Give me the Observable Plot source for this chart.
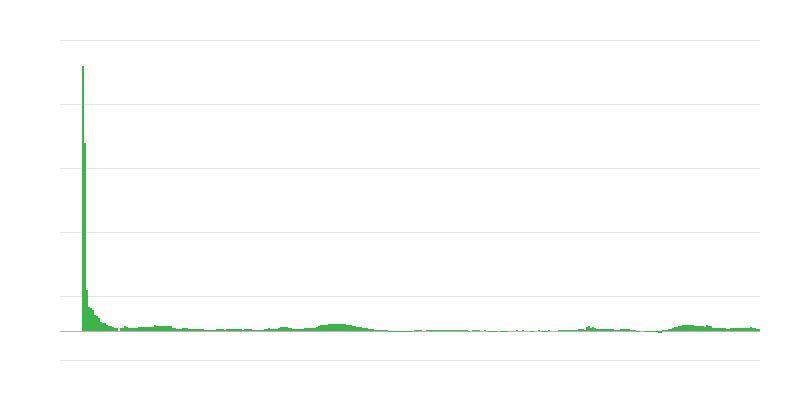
<!DOCTYPE html>
<html>
<head>
<meta charset="utf-8">
<script src="https://cdn.jsdelivr.net/npm/d3@7"></script>
<script src="https://cdn.jsdelivr.net/npm/@observablehq/plot@0.6"></script>
<style>
  html, body { margin: 0; padding: 0; background: #fff; }
  #chart { width: 800px; height: 400px; }
</style>
</head>
<body>
<div id="chart"></div>
<script>
// Bar values (one per period)
const values = [
  265, 188, 41, 24, 23, 21, 16, 15, 13, 9,
  8, 8, 6, 5, 5, 4, 3, 3, 0.5, 3.3,
  3.3, 4.7, 4, 3.3, 3.3, 3.3, 3.3, 3.3, 4, 4.5,
  4.5, 4.5, 4.5, 4.5, 4.5, 4.5, 5.7, 5.5, 4.7, 4.7,
  4.7, 4.7, 4.7, 4.7, 4.7, 3.3, 3.3, 2, 2, 2,
  2.7, 2.7, 2.7, 2.2, 1.7, 1.7, 1.7, 1.7, 1.7, 1.7,
  1.7, 1.5, 1, 1, 1, 1, 1.3, 2, 1.7, 1.7,
  1.7, 1.2, 1.7, 1.7, 1.7, 1.7, 1.7, 1.7, 1.7, 1.7,
  1.2, 1.7, 1.7, 1.7, 1.7, 1.5, 1.2, 1.2, 1.2, 1.2,
  1.5, 1.7, 1.7, 2.7, 2.5, 2.3, 2.3, 2.5, 3.5, 3.7,
  3.7, 3.7, 3.7, 3.5, 3.5, 1.7, 2.3, 2.3, 2.3, 2.3,
  2.5, 3.3, 3.3, 3.3, 3.3, 3.3, 3.5, 4.3, 5.5, 5.7,
  6.5, 6.5, 6.5, 6.7, 6.7, 7, 7.5, 7.3, 7.5, 7.3,
  7.5, 7.3, 6.5, 5.7, 5.7, 5, 4.7, 4.5, 4, 3.7,
  3.5, 3, 2.7, 2, 1.7, 1.7, 1.5, 1.5, 1.3, 1.2,
  1, 0.8, 0.7, -1, -0.8, -0.8, -1, -1, -0.8, -1,
  -0.8, -0.8, -1, -1.2, -1, 0.5, 1.3, 0.7, 0.7, 0.6,
  0.5, 0.5, 0.6, 0.7, 0.7, 0.6, 0.8, 1.4, 0.8, 0.8,
  0.7, 1, 0.7, 1, 0.7, 1, 1, 1, 1, 1,
  1.2, 1, 0.8, -0.5, -0.4, 0.7, 0.8, 0.6, 0.8, 0.5,
  0.5, 0.6, 0.4, -1, -1, -1, -1, -0.8, 0.3, -1,
  -1, -1, -0.8, 0.3, 0.3, 0.3, 0.3, 1, 0.3, 0.3,
  1, 0.3, 0.3, 0.3, -1, -1, 0.3, 0.3, 1, 0.3,
  -1, -1, -0.8, 1, 0.3, 0.3, 0.3, 0.5, 0.7, 0.7,
  0.7, 0.7, 0.7, 0.7, 0.7, 0.8, 1, 1.3, 1.7, 2,
  1.7, 1.2, 4.3, 4.7, 3.3, 3.7, 2.7, 2.3, 1.8, 1.8,
  1.8, 1.8, 1.8, 2.5, 2, 1.8, 1.3, 1.2, 1.2, 1.7,
  1.7, 1.7, 2, 1.8, 1.5, 1.2, 0.8, -1, -0.5, 0.3,
  0.3, -1, -1, -1, -1, -1, -1, -0.5, -2, -2,
  0.7, 1.2, 1.3, 1.8, 2.2, 3.3, 3.8, 4.3, 5.2, 5.5,
  6.3, 6, 6.3, 6, 6.3, 6, 5.5, 5.5, 5.2, 5,
  5, 4.5, 6.2, 5.5, 4.8, 3.5, 3.5, 3.5, 3.5, 3.5,
  3, 2.8, 2.3, 2, 2.8, 2.8, 3, 3, 3, 3.2,
  3, 3.2, 3, 3.3, 3.8, 3.5, 3.3, 2.3, 2.3
];
// Gridline tick values
const yTicks = [-29, 35, 99, 163, 227, 291];

const data = values.map((v, i) => ({i, v}));

const chart = Plot.plot({
  width: 800,
  height: 400,
  marginTop: 40,
  marginBottom: 40,
  marginLeft: 60,
  marginRight: 40,
  style: {background: "#fff"},
  x: {type: "linear", domain: [-11, values.length], axis: null},
  y: {domain: [yTicks[0], yTicks[yTicks.length - 1]], axis: null},
  marks: [
    Plot.gridY(yTicks, {stroke: "#e6e6e6", strokeOpacity: 1}),
    Plot.ruleY([0], {stroke: "#b5b5b5", strokeWidth: 1}),
    Plot.rectY(data, {x1: "i", x2: d => d.i + 1, y: "v", fill: "#3bb44a", shapeRendering: "crispEdges"})
  ]
});
document.getElementById("chart").appendChild(chart);
</script>
</body>
</html>
